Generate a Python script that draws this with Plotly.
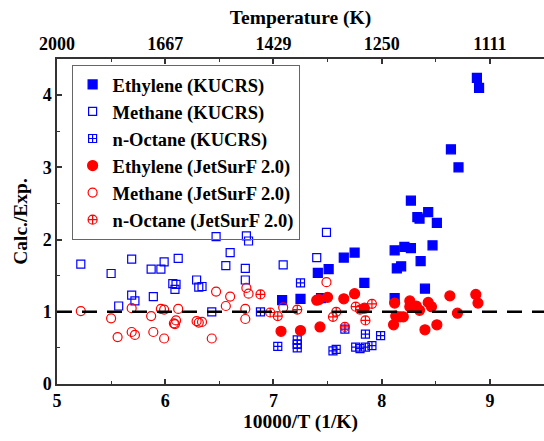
import plotly.graph_objects as go

# ---- data (10000/T, Calc./Exp.) ----
eth_kucrs_x = [7.08, 7.25, 7.41, 7.51, 7.65, 7.75, 7.44, 8.12, 8.21, 8.27, 8.47, 8.14, 8.18, 8.36, 7.84, 8.40, 8.12,
               8.64, 8.71, 8.27, 8.43, 8.33, 8.35, 8.51, 8.88, 8.90]
eth_kucrs_y = [1.16, 1.18, 1.54, 1.59, 1.75, 1.82, 1.19, 1.85, 1.90, 1.88, 1.92, 1.60, 1.63, 1.70, 1.40, 1.32, 1.19,
               3.25, 3.00, 2.54, 2.38, 2.31, 2.29, 2.23, 4.24, 4.10]

met_kucrs_x = [5.22, 5.50, 5.69, 5.87, 5.96, 5.99, 6.12, 6.07, 6.10, 6.09, 6.29, 6.31, 6.34, 6.47, 5.69, 5.72, 5.57,
               5.89, 6.43, 6.75, 6.77, 6.60, 6.56, 6.74, 6.74, 7.49, 7.09, 7.40]
met_kucrs_y = [1.66, 1.53, 1.73, 1.59, 1.59, 1.69, 1.74, 1.39, 1.38, 1.31, 1.44, 1.34, 1.35, 2.04, 1.23, 1.15, 1.08,
               1.21, 1.00, 2.05, 1.98, 1.82, 1.64, 1.60, 1.44, 2.10, 1.65, 1.75]

oct_kucrs_x = [7.25, 6.88, 7.04, 7.22, 7.22, 7.22, 7.55, 7.58, 7.66, 7.76, 7.85, 7.99, 7.80, 7.85, 7.91]
oct_kucrs_y = [1.40, 1.00, 0.52, 0.61, 0.55, 0.50, 0.46, 0.48, 0.76, 0.51, 0.69, 0.67, 0.49, 0.51, 0.53]

eth_jet_x = [7.07, 7.25, 7.40, 7.42, 7.50, 7.43, 7.65, 7.75, 8.12, 8.26, 8.26, 8.32, 8.43, 8.46, 8.35, 8.63, 8.87,
             8.89, 8.70, 8.13, 8.17, 8.20, 8.11, 8.40, 8.51, 7.84]
eth_jet_y = [0.73, 0.74, 1.16, 1.17, 1.20, 0.79, 1.18, 1.25, 1.12, 1.15, 1.07, 1.08, 1.13, 1.07, 1.02, 1.22, 1.24,
             1.12, 0.98, 0.94, 0.93, 0.93, 0.82, 0.75, 0.82, 1.05]

met_jet_x = [5.22, 5.50, 5.56, 5.69, 5.69, 5.72, 5.87, 5.89, 5.96, 5.99, 5.99, 6.12, 6.10, 6.08, 6.09, 6.29, 6.31,
             6.34, 6.43, 6.47, 6.60, 6.56, 6.75, 6.77, 6.74, 6.74, 7.09, 7.49]
met_jet_y = [1.01, 0.91, 0.65, 1.05, 0.72, 0.68, 0.94, 0.72, 1.04, 1.03, 0.63, 1.04, 0.88, 0.84, 0.83, 0.87, 0.85,
             0.86, 0.63, 1.28, 1.21, 1.08, 1.33, 1.25, 1.04, 0.90, 1.06, 1.41]

oct_jet_x = [6.88, 6.97, 7.04, 7.22, 7.58, 7.55, 7.66, 7.76, 7.80, 7.91, 7.85]
oct_jet_y = [1.24, 0.99, 0.94, 1.03, 1.00, 0.93, 0.79, 1.07, 1.03, 1.11, 0.88]

top_tick_vals = [5, 6, 7, 8, 9]
top_tick_text = ["2000", "1667", "1429", "1250", "1111"]

BLUE = "#0000FF"
RED = "#FF0000"
FONT = "Liberation Serif"

fig = go.Figure()

series = [
    ("Ethylene (KUCRS)", eth_kucrs_x, eth_kucrs_y, "square", BLUE, 9),
    ("Methane (KUCRS)", met_kucrs_x, met_kucrs_y, "square-open", BLUE, 8),
    ("n-Octane (KUCRS)", oct_kucrs_x, oct_kucrs_y, "square-cross-open", BLUE, 8),
    ("Ethylene (JetSurF 2.0)", eth_jet_x, eth_jet_y, "circle", RED, 10),
    ("Methane (JetSurF 2.0)", met_jet_x, met_jet_y, "circle-open", RED, 9),
    ("n-Octane (JetSurF 2.0)", oct_jet_x, oct_jet_y, "circle-cross-open", RED, 9),
]
for name, xs, ys, sym, col, sz in series:
    fig.add_trace(go.Scatter(
        x=xs, y=ys, mode="markers", name="<b>" + name + "</b>",
        marker=dict(symbol=sym, color=col, size=sz, line=dict(color=col, width=1.2)),
    ))

# invisible trace on top axis
fig.add_trace(go.Scatter(x=[5, 9.5], y=[0, 0], xaxis="x2", mode="markers",
                         marker=dict(opacity=0), showlegend=False, hoverinfo="skip"))

fig.add_shape(type="line", x0=5, x1=9.5, y0=1, y1=1, xref="x", yref="y",
              line=dict(color="black", width=2.5, dash="15px,10px"), layer="above")

tickfont = dict(family=FONT, size=18, color="black")
titlefont = dict(family=FONT, size=19.5, color="black")

fig.update_layout(
    width=544, height=441,
    margin=dict(l=57, r=0, t=59, b=57),
    plot_bgcolor="white", paper_bgcolor="white",
    font=dict(family=FONT, size=18, color="black"),
    xaxis=dict(range=[5, 9.5], dtick=1, tick0=5, ticks="inside", ticklen=5, tickwidth=1.5,
               tickcolor="#333", showline=True, linecolor="#333", linewidth=1.5,
               showgrid=False, zeroline=False, tickfont=tickfont, tickprefix="<b>", ticksuffix="</b>",
               minor=dict(dtick=0.5, ticks="inside", ticklen=3, tickcolor="#333", tickwidth=1.2),
               title=dict(text="<b>10000/T (1/K)</b>", font=titlefont, standoff=2)),
    xaxis2=dict(range=[5, 9.5], overlaying="x", side="top", tickvals=top_tick_vals,
                ticktext=["<b>" + t + "</b>" for t in top_tick_text], ticks="inside", ticklen=5,
                tickwidth=1.5, tickcolor="#333",
                showline=True, linecolor="#333", linewidth=1.5, showgrid=False, zeroline=False,
                tickfont=tickfont,
                minor=dict(dtick=0.5, tick0=5, ticks="inside", ticklen=3, tickcolor="#333", tickwidth=1.2),
                title=dict(text="<b>Temperature (K)</b>", font=titlefont, standoff=4)),
    yaxis=dict(range=[0, 4.5], dtick=1, ticks="inside", ticklen=5, tickwidth=1.5, tickcolor="#333",
               showline=True, linecolor="#333", linewidth=1.5, showgrid=False, zeroline=False,
               tickfont=tickfont, tickprefix="<b>", ticksuffix="</b>",
               minor=dict(dtick=0.5, ticks="inside", ticklen=3, tickcolor="#333", tickwidth=1.2),
               title=dict(text="<b>Calc./Exp.</b>", font=titlefont, standoff=10)),
    legend=dict(x=0.03, y=0.982, xanchor="left", yanchor="top",
                bordercolor="#666", borderwidth=1, bgcolor="rgba(255,255,255,0)",
                font=dict(family=FONT, size=18.5, color="black"),
                itemsizing="trace"),
    showlegend=True,
)

fig.write_html("out.html")
